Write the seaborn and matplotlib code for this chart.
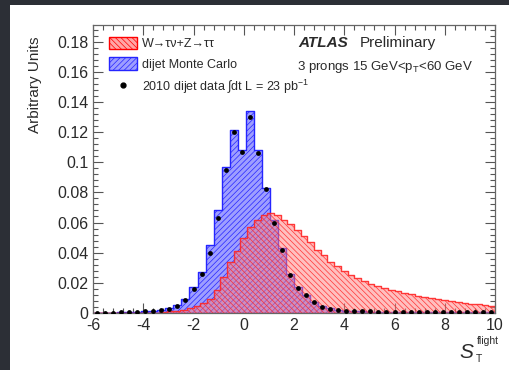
import numpy as np
import pandas as pd
import matplotlib
matplotlib.use("Agg")
import matplotlib.pyplot as plt
import seaborn as sns
from matplotlib.patches import Patch, Rectangle
from matplotlib.lines import Line2D
from matplotlib.ticker import MultipleLocator, FuncFormatter

# ---------------- data ----------------
# W->tau nu + Z->tau tau : 60 bins from -6 to 10
sig_edges = [round(-6 + 16 * i / 60, 6) for i in range(61)]
sig_vals = [0, 0, 0, 0, 0, 0, 0, 0, 0.0001, 0.0003,
            0.0006, 0.001, 0.0015, 0.0022, 0.003, 0.0045, 0.0065, 0.009, 0.015, 0.024,
            0.034, 0.041, 0.050, 0.057, 0.062, 0.065, 0.066, 0.065, 0.062, 0.059,
            0.055, 0.051, 0.047, 0.042, 0.0385, 0.034, 0.031, 0.028, 0.0255, 0.023,
            0.021, 0.0195, 0.018, 0.0165, 0.0155, 0.0145, 0.0135, 0.0125, 0.0115, 0.0105,
            0.0097, 0.009, 0.0083, 0.0077, 0.0072, 0.0067, 0.0062, 0.0057, 0.0052, 0.0047]

# dijet Monte Carlo : 50 bins from -6 to 10
bkg_edges = [round(-6 + 0.32 * i, 6) for i in range(51)]
bkg_vals = [0.0002, 0.0002, 0.0003, 0.0004, 0.0005, 0.0007, 0.001, 0.0014, 0.002, 0.003,
            0.005, 0.009, 0.017, 0.027, 0.045, 0.068, 0.097, 0.1216, 0.108, 0.134,
            0.108, 0.083, 0.062, 0.043, 0.026, 0.017, 0.012, 0.0075, 0.0045, 0.003,
            0.002, 0.0015, 0.0012, 0.001, 0.0009, 0.0008, 0.0008, 0.0007, 0.0007, 0.0006,
            0.0006, 0.0006, 0.0005, 0.0005, 0.0005, 0.0005, 0.0004, 0.0004, 0.0004, 0.0004]

# 2010 dijet data : same binning as dijet MC
data_vals = [0.0003, 0.0003, 0.0003, 0.0004, 0.0005, 0.0007, 0.001, 0.0015, 0.002, 0.0027,
             0.0047, 0.0086, 0.016, 0.026, 0.040, 0.063, 0.095, 0.120, 0.107, 0.130,
             0.106, 0.082, 0.060, 0.042, 0.025, 0.0165, 0.012, 0.007, 0.004, 0.0027,
             0.002, 0.0015, 0.0013, 0.0011, 0.001, 0.0009, 0.0009, 0.0008, 0.0008, 0.0008,
             0.0007, 0.0007, 0.0007, 0.0006, 0.0006, 0.0006, 0.0005, 0.0005, 0.0005, 0.0005]

sig_label = "W\u2192\u03c4\u03bd+Z\u2192\u03c4\u03c4"
bkg_label = "dijet Monte Carlo"
data_label = r"2010 dijet data $\int$dt L = 23 pb$^{-1}$"

# ---------------- style ----------------
sns.set_theme(style="ticks")
plt.rcParams["font.family"] = ["Liberation Sans", "DejaVu Sans"]
plt.rcParams["mathtext.fontset"] = "custom"
plt.rcParams["mathtext.rm"] = "Liberation Sans"
plt.rcParams["mathtext.it"] = "Liberation Sans:italic"
plt.rcParams["hatch.linewidth"] = 0.5
TXT = "#2a2a2a"

W, H = 509, 370
fig = plt.figure(figsize=(W / 100, H / 100), dpi=100)
fig.patch.set_facecolor("#2c2f36")
fig.patches.append(Rectangle((10 / W, 0), 1 - 10 / W, 1 - 5 / H,
                             transform=fig.transFigure, facecolor="white",
                             edgecolor="none", zorder=-10))

ax = fig.add_axes([93 / W, 1 - 313 / H, (495 - 93) / W, (313 - 25) / H])

sig_e = np.array(sig_edges)
bkg_e = np.array(bkg_edges)
sig_c = 0.5 * (sig_e[:-1] + sig_e[1:])
bkg_c = 0.5 * (bkg_e[:-1] + bkg_e[1:])
df_sig = pd.DataFrame({"x": sig_c, "w": sig_vals})
df_bkg = pd.DataFrame({"x": bkg_c, "w": bkg_vals, "d": data_vals})

sns.histplot(data=df_bkg, x="x", weights="w", bins=bkg_edges, element="step",
             fill=True, facecolor=(0.62, 0.62, 1.0, 1.0), edgecolor="#2525ff",
             linewidth=1.0, hatch="//////", ax=ax)
sns.histplot(data=df_sig, x="x", weights="w", bins=sig_edges, element="step",
             fill=True, facecolor=(1.0, 0.5, 0.5, 0.5), edgecolor=(1, 0.15, 0.15, 0.9),
             linewidth=1.0, hatch="\\\\\\\\\\\\", ax=ax)
sns.scatterplot(data=df_bkg, x="x", y="d", color="black", s=12, edgecolor="black",
                linewidth=0, ax=ax, zorder=5)

ax.set_xlim(-6, 10)
ax.set_ylim(0, 0.191)
ax.set_xlabel("")
ax.set_ylabel("Arbitrary Units", fontsize=11, color=TXT, y=0.96, ha="right",
              labelpad=11)

ax.xaxis.set_major_locator(MultipleLocator(2))
ax.xaxis.set_minor_locator(MultipleLocator(0.4))
ax.yaxis.set_major_locator(MultipleLocator(0.02))
ax.yaxis.set_minor_locator(MultipleLocator(0.004))
fmt = FuncFormatter(lambda v, p: "%g" % round(v, 4))
ax.xaxis.set_major_formatter(fmt)
ax.yaxis.set_major_formatter(fmt)
ax.tick_params(which="both", direction="in", top=True, right=True,
               colors="#555555", labelcolor=TXT, labelsize=11.5, width=0.8)
ax.tick_params(which="major", length=7)
ax.tick_params(which="minor", length=3.5)
for s in ax.spines.values():
    s.set_color("#666666")
    s.set_linewidth(0.9)

handles = [Patch(facecolor=(1.0, 0.65, 0.65), edgecolor="red", hatch="\\\\\\\\\\\\", lw=1),
           Patch(facecolor=(0.62, 0.62, 1.0), edgecolor="#2525ff", hatch="//////", lw=1),
           Line2D([], [], marker="o", color="black", ls="none", markersize=3.5)]
leg = ax.legend(handles, [sig_label, bkg_label, data_label], loc="upper left",
                bbox_to_anchor=(0.04, 0.96), frameon=False, fontsize=9,
                handlelength=2.2, handleheight=1.2, labelspacing=0.55,
                handletextpad=0.4, borderpad=0, borderaxespad=0)
for t in leg.get_texts():
    t.set_color(TXT)

def px(x, y):
    return x / W, 1 - y / H

fig.text(*px(298, 43), "ATLAS", fontsize=11, fontweight="bold", fontstyle="italic",
         color=TXT, va="center", ha="left")
fig.text(*px(360, 43), "Preliminary", fontsize=11, color=TXT, va="center", ha="left")
fig.text(*px(297, 67), r"3 prongs 15 GeV<p$_{\mathrm{T}}$<60 GeV", fontsize=9.5,
         color=TXT, va="center", ha="left")
# x-axis title S_T^flight
fig.text(*px(459, 352), "S", fontsize=15, fontstyle="italic", color=TXT,
         va="center", ha="left")
fig.text(*px(477, 341), "flight", fontsize=7.5, color=TXT, va="center", ha="left")
fig.text(*px(476, 359), "T", fontsize=7.5, color=TXT, va="center", ha="left")

fig.savefig("out.png", dpi=100, facecolor=fig.get_facecolor())
